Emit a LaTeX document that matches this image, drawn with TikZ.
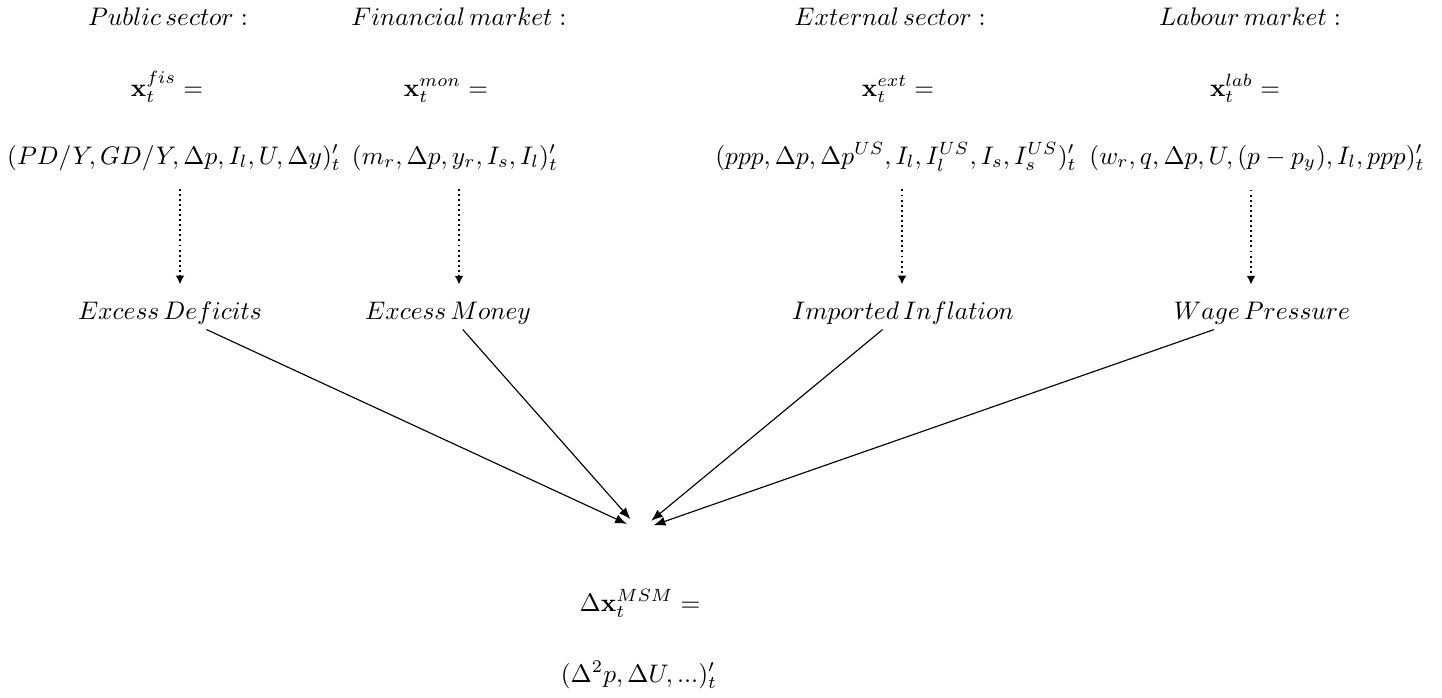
\documentclass[tikz,border=0pt]{standalone}
\usetikzlibrary{arrows.meta}
\begin{document}
\begin{tikzpicture}[x=0.3937pt,y=-0.3937pt,
  lbl/.style={inner sep=0pt, anchor=base},
  exc/.style={inner sep=2pt, anchor=base},
  dotarrow/.style={line width=0.75pt, dash pattern=on 0.75pt off 1.25pt,
     -{Latex[length=3.4pt,width=3.4pt]}, shorten <=7pt, shorten >=4.5pt},
  solarrow/.style={line width=0.45pt, -{Latex[length=4.6pt,width=3.6pt]}},
  hubnode/.style={circle, minimum size=11pt, inner sep=0pt}]
\useasboundingbox (0,0) rectangle (1442,697);
% headings
\node[lbl] (h1) at (168,25) {$Public\,sector:$};
\node[lbl] (h2) at (459,25) {$Financial\,market:$};
\node[lbl] (h3) at (890,25) {$External\,sector:$};
\node[lbl] (h4) at (1250,25) {$Labour\,market:$};
% x rows
\node[lbl] (x1) at (167,96) {$\mathbf{x}_t^{fis}=$};
\node[lbl] (x2) at (446,96) {$\mathbf{x}_t^{mon}=$};
\node[lbl] (x3) at (898,96) {$\mathbf{x}_t^{ext}=$};
\node[lbl] (x4) at (1245,96) {$\mathbf{x}_t^{lab}=$};
% formulas
\node[lbl] (f1) at (174,164) {$(PD/Y,GD/Y,\Delta p,I_l,U,\Delta y)'_t$};
\node[lbl] (f2) at (455,164) {$(m_r,\Delta p,y_r,I_s,I_l)'_t$};
\node[lbl] (f3) at (896,164) {$(ppp,\Delta p,\Delta p^{US},I_l,I_l^{US},I_s,I_s^{US})'_t$};
\node[lbl] (f4) at (1257,164) {$(w_r,q,\Delta p,U,(p-p_y),I_l,ppp)'_t$};
% excess row
\node[exc] (e1) at (170,319) {$Excess\,Deficits$};
\node[exc] (e2) at (448,319) {$Excess\,Money$};
\node[exc] (e3) at (903,319) {$Imported\,Inflation$};
\node[exc] (e4) at (1262,319) {$Wage\,Pressure$};
% bottom
\node[hubnode] (hub) at (640,530) {};
\node[lbl] (m1) at (640,611) {$\Delta\mathbf{x}_t^{MSM}=$};
\node[lbl] (m2) at (639,682) {$(\Delta^2 p,\Delta U,...)'_t$};
% dotted arrows (column axes)
\coordinate (c1) at (180,0);
\coordinate (c2) at (459,0);
\coordinate (c3) at (902,0);
\coordinate (c4) at (1251,0);
\draw[dotarrow] (f1.south -| c1) -- (e1.north -| c1);
\draw[dotarrow] (f2.south -| c2) -- (e2.north -| c2);
\draw[dotarrow] (f3.south -| c3) -- (e3.north -| c3);
\draw[dotarrow] (f4.south -| c4) -- (e4.north -| c4);
% solid arrows
\draw[solarrow] (e1) -- (hub);
\draw[solarrow] (e2) -- (hub);
\draw[solarrow] (e3) -- (hub);
\draw[solarrow] (e4) -- (hub);
\end{tikzpicture}
\end{document}
